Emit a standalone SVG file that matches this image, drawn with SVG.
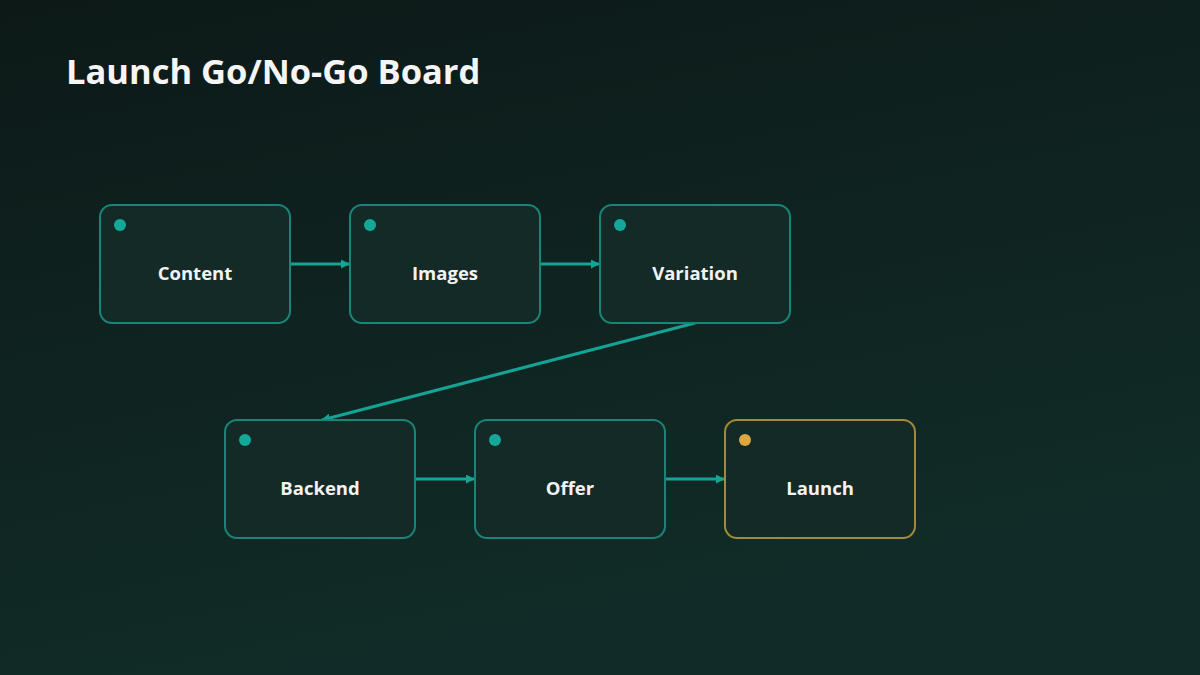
<svg xmlns="http://www.w3.org/2000/svg" width="1200" height="675" viewBox="0 0 1200 675">
<defs>
<linearGradient id="bg" x1="0" y1="0" x2="0.35" y2="1">
<stop offset="0" stop-color="#0c1917"/>
<stop offset="0.5" stop-color="#0f2320"/>
<stop offset="1" stop-color="#112c28"/>
</linearGradient>
<marker id="arr" viewBox="0 0 10 10" refX="9" refY="5" markerWidth="3" markerHeight="3" orient="auto">
<path d="M0,0 L10,5 L0,10 z" fill="#14a394"/>
</marker>
<style>
.box{fill:#132a27;stroke:#1a8478;stroke-width:2}
.gold{stroke:#a38a3a}
.dot{fill:#14a898}
.dotg{fill:#d8a842}
.lbl{font-family:"Open Sans","Noto Sans",sans-serif;font-weight:700;font-size:18.5px;fill:#f2f2f2;text-anchor:middle}
.edge{stroke:#14a394;stroke-width:3;fill:none;marker-end:url(#arr)}
</style>
</defs>
<rect width="1200" height="675" fill="url(#bg)"/>
<text x="66" y="84" font-family="'Open Sans','Noto Sans',sans-serif" font-weight="700" font-size="34.5" fill="#f5f5f5">Launch Go/No-Go Board</text>
<g id="connectors">
<line class="edge" x1="290" y1="264" x2="349" y2="264"/>
<line class="edge" x1="540" y1="264" x2="599" y2="264"/>
<line class="edge" x1="695" y1="323" x2="322" y2="420"/>
<line class="edge" x1="415" y1="479" x2="474" y2="479"/>
<line class="edge" x1="665" y1="479" x2="724" y2="479"/>
</g>
<g id="content"><rect class="box" x="100" y="205" width="190" height="118" rx="12"/><circle class="dot" cx="120" cy="225" r="6"/><text class="lbl" x="195" y="280">Content</text></g>
<g id="images"><rect class="box" x="350" y="205" width="190" height="118" rx="12"/><circle class="dot" cx="370" cy="225" r="6"/><text class="lbl" x="445" y="280">Images</text></g>
<g id="variation"><rect class="box" x="600" y="205" width="190" height="118" rx="12"/><circle class="dot" cx="620" cy="225" r="6"/><text class="lbl" x="695" y="280">Variation</text></g>
<g id="backend"><rect class="box" x="225" y="420" width="190" height="118" rx="12"/><circle class="dot" cx="245" cy="440" r="6"/><text class="lbl" x="320" y="495">Backend</text></g>
<g id="offer"><rect class="box" x="475" y="420" width="190" height="118" rx="12"/><circle class="dot" cx="495" cy="440" r="6"/><text class="lbl" x="570" y="495">Offer</text></g>
<g id="launch"><rect class="box gold" x="725" y="420" width="190" height="118" rx="12"/><circle class="dotg" cx="745" cy="440" r="6"/><text class="lbl" x="820" y="495">Launch</text></g>
</svg>
